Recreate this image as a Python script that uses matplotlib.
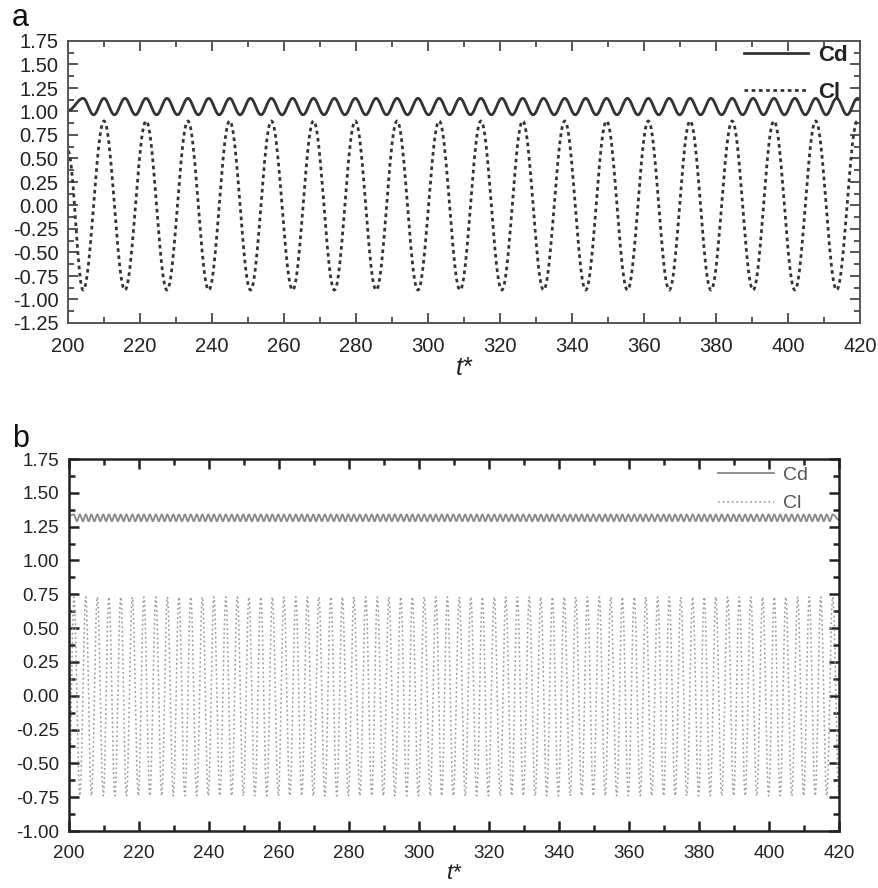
import numpy as np
import matplotlib
matplotlib.use("Agg")
import matplotlib.pyplot as plt
from matplotlib.ticker import MultipleLocator, FixedLocator

plt.rcParams['font.family'] = ['Liberation Sans', 'DejaVu Sans']

# ---------------- data ----------------
# Panel a : lift coefficient extremes
cl_a_trough_t = [204.2, 215.8, 227.5, 239.1, 250.7, 262.4, 274.0, 285.6, 297.2, 308.9,
                 320.5, 332.1, 343.8, 355.4, 367.0, 378.6, 390.3, 401.9, 413.5]
cl_a_peak_t = [210.0, 221.7, 233.3, 244.9, 256.5, 268.2, 279.8, 291.4, 303.1, 314.7,
               326.3, 338.0, 349.6, 361.2, 372.8, 384.5, 396.1, 407.7, 419.3]
cl_a_peak_v = 0.90
cl_a_trough_v = -0.90
cl_a_start = (200.0, 0.58)
cl_a_end = (420.0, 0.89)
# Panel a : drag coefficient extremes (peaks at Cl extremes)
cd_a_peak_v = 1.14
cd_a_trough_v = 0.965
cd_a_start = (200.0, 1.01)
cd_a_end = (420.0, 1.13)

# Panel b : lift coefficient extremes
cl_b_trough_t = [203.1, 206.4, 209.8, 213.1, 216.4, 219.8, 223.1, 226.5, 229.8, 233.1,
                 236.5, 239.8, 243.1, 246.5, 249.8, 253.1, 256.5, 259.8, 263.1, 266.5,
                 269.8, 273.1, 276.5, 279.8, 283.1, 286.5, 289.8, 293.1, 296.5, 299.8,
                 303.2, 306.5, 309.8, 313.2, 316.5, 319.8, 323.2, 326.5, 329.8, 333.2,
                 336.5, 339.8, 343.2, 346.5, 349.8, 353.2, 356.5, 359.8, 363.2, 366.5,
                 369.9, 373.2, 376.5, 379.9, 383.2, 386.5, 389.9, 393.2, 396.5, 399.9,
                 403.2, 406.5, 409.9, 413.2, 416.5]
cl_b_peak_t = [201.4, 204.8, 208.1, 211.4, 214.8, 218.1, 221.4, 224.8, 228.1, 231.4,
               234.8, 238.1, 241.4, 244.8, 248.1, 251.4, 254.8, 258.1, 261.4, 264.8,
               268.1, 271.4, 274.8, 278.1, 281.4, 284.8, 288.1, 291.4, 294.8, 298.1,
               301.5, 304.8, 308.1, 311.5, 314.8, 318.1, 321.5, 324.8, 328.1, 331.5,
               334.8, 338.1, 341.5, 344.8, 348.1, 351.5, 354.8, 358.1, 361.5, 364.8,
               368.2, 371.5, 374.8, 378.2, 381.5, 384.8, 388.2, 391.5, 394.8, 398.2,
               401.5, 404.8, 408.2, 411.5, 414.8, 418.2]
cl_b_peak_v = 0.73
cl_b_trough_v = -0.74
cl_b_start = (200.0, -0.70)
cl_b_end = (420.0, -0.72)
cd_b_peak_v = 1.34
cd_b_trough_v = 1.29
cd_b_start = (200.0, 1.33)
cd_b_end = (420.0, 1.30)

x_range = (200, 420)
xticks = [200, 220, 240, 260, 280, 300, 320, 340, 360, 380, 400, 420]
a_yticks = [-1.25, -1.0, -0.75, -0.5, -0.25, 0.0, 0.25, 0.5, 0.75, 1.0, 1.25, 1.5, 1.75]
b_yticks = [-1.0, -0.75, -0.5, -0.25, 0.0, 0.25, 0.5, 0.75, 1.0, 1.25, 1.5, 1.75]


def through_extremes(te, ve, n=24):
    te = np.asarray(te, float)
    ve = np.asarray(ve, float)
    ts, vs = [], []
    for i in range(len(te) - 1):
        s = np.linspace(0, 1, n, endpoint=False)
        ts.append(te[i] + s * (te[i + 1] - te[i]))
        vs.append(ve[i] + (ve[i + 1] - ve[i]) * (1 - np.cos(np.pi * s)) / 2)
    ts.append([te[-1]])
    vs.append([ve[-1]])
    return np.concatenate(ts), np.concatenate(vs)


def build(peak_t, peak_v, trough_t, trough_v, start, end):
    tt = list(peak_t) + list(trough_t)
    vv = [peak_v] * len(peak_t) + [trough_v] * len(trough_t)
    order = np.argsort(tt)
    tt = [start[0]] + [tt[i] for i in order] + [end[0]]
    vv = [start[1]] + [vv[i] for i in order] + [end[1]]
    return tt, vv


def cd_from_cl(cl_t, peak_v, trough_v, start, end):
    ext = np.sort(np.asarray(cl_t, float))
    mids = (ext[:-1] + ext[1:]) / 2
    return build(ext, peak_v, mids, trough_v, start, end)


# ---------------- figure ----------------
fig = plt.figure(figsize=(8.79, 8.88), dpi=100)

ax1 = fig.add_axes([68 / 879, 1 - 323 / 888, 792 / 879, 282 / 888])
ax2 = fig.add_axes([69 / 879, 1 - 831 / 888, 770 / 879, 372 / 888])

# panel a
ta, va = build(cl_a_peak_t, cl_a_peak_v, cl_a_trough_t, cl_a_trough_v, cl_a_start, cl_a_end)
cl_a_ext_t = ta[1:-1]
t_cl, y_cl = through_extremes(ta, va)
tc, vc = cd_from_cl(cl_a_ext_t, cd_a_peak_v, cd_a_trough_v, cd_a_start, cd_a_end)
t_cd, y_cd = through_extremes(tc, vc)
ax1.plot(t_cd, y_cd, color='#333333', lw=2.0, label='Cd')
ax1.plot(t_cl, y_cl, color='#333333', lw=2.0, linestyle=(0, (1.3, 1.3)), label='Cl')

# panel b
tb, vb = build(cl_b_peak_t, cl_b_peak_v, cl_b_trough_t, cl_b_trough_v, cl_b_start, cl_b_end)
cl_b_ext_t = tb[1:-1]
t_cl2, y_cl2 = through_extremes(tb, vb)
tc2, vc2 = cd_from_cl(cl_b_ext_t, cd_b_peak_v, cd_b_trough_v, cd_b_start, cd_b_end)
t_cd2, y_cd2 = through_extremes(tc2, vc2)
ax2.plot(t_cd2, y_cd2, color='#888888', lw=1.3, label='Cd')
ax2.plot(t_cl2, y_cl2, color='#9a9a9a', lw=1.1, linestyle=(0, (1.2, 1.8)), label='Cl')

for ax, yt, fs, sc, slw in ((ax1, a_yticks, 14.5, '#555555', 1.4), (ax2, b_yticks, 13.5, '#222222', 1.8)):
    ax.set_xlim(*x_range)
    ax.set_ylim(yt[0], yt[-1])
    ax.xaxis.set_major_locator(FixedLocator(xticks))
    ax.xaxis.set_minor_locator(MultipleLocator(10))
    ax.yaxis.set_major_locator(FixedLocator(yt))
    ax.yaxis.set_minor_locator(MultipleLocator(0.125))
    ax.set_yticklabels(['%.2f' % v for v in yt])
    ax.set_xticklabels([str(v) for v in xticks])
    ax.tick_params(which='both', direction='in', top=True, right=True, color=sc, width=slw)
    ax.tick_params(which='major', length=7, labelsize=fs, labelcolor='#222222')
    ax.tick_params(axis='y', which='major', pad=7)
    ax.tick_params(axis='x', which='major', pad=10)
    ax.tick_params(which='minor', length=4)
    for s in ax.spines.values():
        s.set_color(sc)
        s.set_linewidth(slw)

ax1.set_xlabel('t*', fontsize=18, style='italic', labelpad=0, color='#222222')
ax2.set_xlabel('t*', fontsize=16, style='italic', labelpad=1, color='#222222')

leg1 = ax1.legend(loc='upper right', bbox_to_anchor=(0.985, 0.985), frameon=False,
                  prop={'size': 16, 'weight': 'bold'}, handlelength=2.9,
                  handletextpad=0.45, labelspacing=0.72, borderaxespad=0, borderpad=0)
for txt in leg1.get_texts():
    txt.set_color('#222222')
leg2 = ax2.legend(loc='upper right', bbox_to_anchor=(0.96, 0.98), frameon=False,
                  prop={'size': 14}, handlelength=2.9, handletextpad=0.45,
                  labelspacing=0.55, borderaxespad=0, borderpad=0)
for txt in leg2.get_texts():
    txt.set_color('#555555')

fig.text(12 / 879, 1 - 26 / 888, 'a', fontsize=22, va='baseline', ha='left', color='#111111')
fig.text(12 / 879, 1 - 447 / 888, 'b', fontsize=22, va='baseline', ha='left', color='#111111')

fig.savefig('out.png', dpi=100)
